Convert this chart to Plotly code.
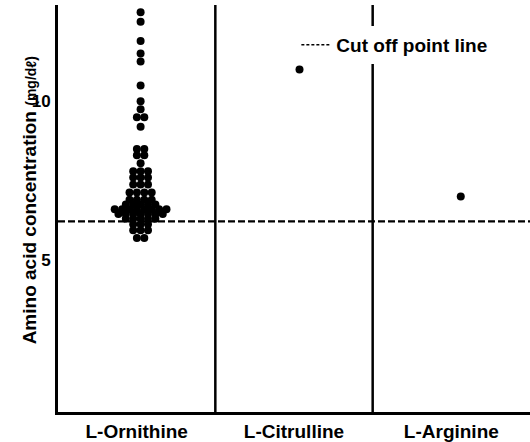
import plotly.graph_objects as go

categories = ["L-Ornithine", "L-Citrulline", "L-Arginine"]

# L-Ornithine individual values (mg/dl), read from the dot column
ornithine = [12.8, 12.5, 11.9, 11.5, 11.25, 10.5, 10.0, 9.75, 9.5, 9.5, 9.2,
             8.5, 8.5, 8.3, 8.3, 8.05,
             7.8, 7.8, 7.8,
             7.6, 7.6, 7.6,
             7.38, 7.38, 7.38,
             7.13, 7.13, 7.13, 7.13,
             6.9, 6.9, 6.9, 6.9,
             6.75, 6.75, 6.75, 6.75, 6.75,
             6.6, 6.6, 6.6, 6.6, 6.6, 6.6, 6.6, 6.6,
             6.45, 6.45, 6.45, 6.45, 6.45, 6.45, 6.45,
             6.3, 6.3, 6.3, 6.3, 6.3,
             6.13, 6.13, 6.13,
             5.94, 5.94, 5.94,
             5.7, 5.7]
citrulline = [11.0]
arginine = [7.0]
cutoff = 6.22

y_ticks = [5, 10]
y_range = [0.22, 13.03]

DOT_STEP = 0.047          # horizontal spacing of stacked dots (category units)
COL_SHIFT = [0.025, 0.035, 0.06]   # slight horizontal placement of each column


def stack_offsets(values, center, shift):
    """Dot-plot layout: equal values are placed side by side, centred."""
    counts = {}
    for v in values:
        counts[v] = counts.get(v, 0) + 1
    seen = {}
    xs = []
    for v in values:
        i = seen.get(v, 0)
        seen[v] = i + 1
        n = counts[v]
        xs.append(center + shift + (i - (n - 1) / 2) * DOT_STEP)
    return xs


FONT = "Liberation Sans, Arial, sans-serif"
marker = dict(color="black", size=8, line=dict(width=0))

fig = go.Figure()
series = [ornithine, citrulline, arginine]
centers = [0, 1, 2]
for vals, c, s in zip(series, centers, COL_SHIFT):
    fig.add_trace(go.Scatter(x=stack_offsets(vals, c, s), y=vals, mode="markers",
                             marker=marker, showlegend=False, hoverinfo="skip"))

# cut-off line across the whole plot
fig.add_trace(go.Scatter(x=[-0.5, 2.5], y=[cutoff, cutoff], mode="lines",
                         line=dict(color="black", width=2.2, dash="7px,3px"),
                         showlegend=False, hoverinfo="skip"))
# legend entry (finer dash sample, as in the original key)
fig.add_trace(go.Scatter(x=[None], y=[None], mode="lines",
                         line=dict(color="black", width=1.6, dash="3px,2px"),
                         name="Cut off point line", showlegend=True,
                         hoverinfo="skip"))

for b in [0.5, 1.5]:
    fig.add_shape(type="line", xref="x", yref="paper", x0=b, x1=b, y0=0, y1=1,
                  line=dict(color="black", width=2.5), layer="below")

fig.update_layout(
    width=530, height=442,
    margin=dict(l=58, r=0, t=5, b=27),
    paper_bgcolor="white", plot_bgcolor="white",
    font=dict(family=FONT, color="black", size=19, weight="bold"),
    xaxis=dict(range=[-0.5, 2.5], tickvals=centers, ticktext=categories,
               showgrid=False, zeroline=False, showline=True, linewidth=3,
               linecolor="black", ticks="", tickfont=dict(size=19, weight="bold")),
    yaxis=dict(range=y_range, tickvals=y_ticks, showgrid=False, zeroline=False,
               showline=True, linewidth=3, linecolor="black", ticks="",
               ticklabelstandoff=1,
               tickfont=dict(size=17, weight="bold")),
    legend=dict(x=0.505, y=0.902, xanchor="left", yanchor="middle",
                bgcolor="white", borderwidth=0,
                font=dict(size=19, weight="bold"), itemwidth=30),
    showlegend=True,
)

fig.add_annotation(
    text="Amino acid concentration <span style='font-size:14px'>(mg/dℓ)</span>",
    xref="paper", yref="paper", x=0, y=0.52, xshift=-29,
    textangle=-90, showarrow=False, xanchor="center", yanchor="middle",
    font=dict(size=19, weight="bold"),
)

fig.write_html("out.html", config={"displayModeBar": False},
               post_script="document.body.style.margin='0';")
